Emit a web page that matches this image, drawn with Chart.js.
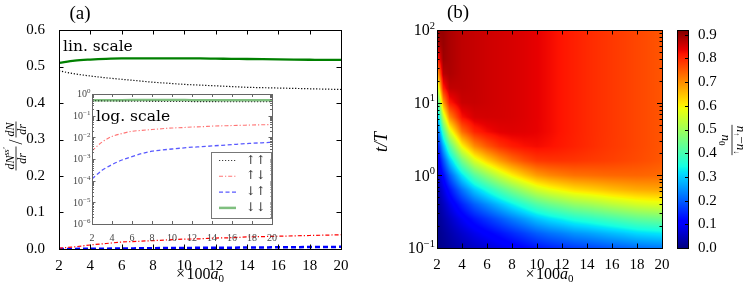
<!DOCTYPE html>
<html><head><meta charset="utf-8">
<script src="https://cdn.jsdelivr.net/npm/chart.js@4.4.1/dist/chart.umd.min.js"></script>
<style>
html,body{margin:0;padding:0;background:#fff;}
#wrap{position:relative;width:748px;height:286px;overflow:hidden;background:#fff;}
canvas{position:absolute;display:block;}
</style></head><body>
<div id="wrap">
<canvas id="cMain" width="370" height="286" style="left:0;top:0;width:370px;height:286px"></canvas>
<canvas id="cInset" width="230" height="170" style="left:60px;top:80px;width:230px;height:170px"></canvas>
<canvas id="cHeat" width="300" height="286" style="left:370px;top:0;width:300px;height:286px"></canvas>
<canvas id="cBar" width="78" height="286" style="left:670px;top:0;width:78px;height:286px"></canvas>
</div>
<script>
// ---------- data ----------
const xValues = [2,3,4,5,6,7,8,9,10,11,12,13,14,15,16,17,18,19,20];
const upUp     = [0.488,0.480,0.474,0.469,0.465,0.461,0.457,0.454,0.451,0.449,0.447,0.445,0.443,0.442,0.441,0.440,0.439,0.438,0.437];
const upDown   = [0.0024,0.006,0.011,0.015,0.019,0.021,0.023,0.025,0.027,0.028,0.030,0.031,0.033,0.034,0.035,0.036,0.037,0.038,0.039];
const downUp   = [0.00012,0.0003,0.00055,0.0009,0.0013,0.0018,0.0023,0.0026,0.0029,0.0032,0.0035,0.0037,0.0040,0.0043,0.0046,0.0050,0.0053,0.0056,0.0059];
const downDown = [0.510,0.516,0.519,0.521,0.522,0.522,0.522,0.522,0.522,0.522,0.5215,0.521,0.5205,0.520,0.5195,0.519,0.5185,0.518,0.518];
const seriesLabels = ['↑↑','↑↓','↓↑','↓↓'];

const xTickValues = [2,4,6,8,10,12,14,16,18,20];
const linTickValues = [0,0.1,0.2,0.3,0.4,0.5,0.6];
const insetLogTicks = [1e-6,1e-5,1e-4,1e-3,1e-2,1e-1,1];
const tLogTicks = [0.1,1,10,100];
const cbarTicks = [0,0.1,0.2,0.3,0.4,0.5,0.6,0.7,0.8,0.9];
const colorMax = 0.92;

// heat map: columns = heatX (x100 a0), rows = heatLogT (log10 t/T), values = (n_up - n_down)/n0
const heatX = [2,2.5,3,4,5,6,7,8,9,10,11,12,13,14,15,16,17,18,19,20];
const heatLogT = [-1,-0.8,-0.6,-0.4,-0.2,0,0.2,0.4,0.6,0.8,1,1.2,1.4,1.6,1.8,2];
const heatZ = [
 [0.005,0.013,0.022,0.039,0.056,0.069,0.083,0.099,0.114,0.131,0.144,0.155,0.167,0.175,0.184,0.194,0.203,0.213,0.220,0.225],
 [0.007,0.020,0.034,0.061,0.086,0.107,0.128,0.150,0.173,0.198,0.217,0.231,0.248,0.258,0.271,0.284,0.296,0.310,0.317,0.324],
 [0.011,0.032,0.053,0.095,0.132,0.162,0.193,0.226,0.257,0.291,0.316,0.335,0.356,0.369,0.384,0.399,0.414,0.429,0.437,0.445],
 [0.018,0.049,0.083,0.145,0.200,0.243,0.286,0.329,0.370,0.412,0.441,0.463,0.486,0.499,0.514,0.531,0.544,0.558,0.566,0.571],
 [0.028,0.077,0.128,0.218,0.295,0.351,0.406,0.458,0.506,0.552,0.580,0.601,0.620,0.630,0.641,0.653,0.662,0.670,0.673,0.675],
 [0.044,0.119,0.194,0.320,0.418,0.485,0.547,0.602,0.646,0.685,0.705,0.717,0.727,0.730,0.734,0.737,0.738,0.739,0.737,0.733],
 [0.069,0.182,0.287,0.450,0.562,0.630,0.685,0.729,0.760,0.782,0.787,0.788,0.786,0.782,0.779,0.775,0.770,0.765,0.759,0.752],
 [0.107,0.271,0.410,0.595,0.700,0.752,0.789,0.811,0.822,0.827,0.821,0.813,0.805,0.797,0.789,0.782,0.776,0.769,0.762,0.755],
 [0.163,0.389,0.556,0.730,0.802,0.827,0.840,0.844,0.842,0.837,0.828,0.817,0.807,0.798,0.790,0.783,0.776,0.769,0.762,0.755],
 [0.245,0.534,0.700,0.822,0.851,0.854,0.853,0.850,0.845,0.838,0.828,0.817,0.807,0.798,0.790,0.783,0.776,0.769,0.762,0.755],
 [0.357,0.683,0.811,0.861,0.863,0.858,0.854,0.850,0.845,0.838,0.828,0.817,0.807,0.798,0.790,0.783,0.776,0.769,0.762,0.755],
 [0.497,0.806,0.868,0.869,0.864,0.858,0.854,0.850,0.845,0.838,0.828,0.817,0.807,0.798,0.790,0.783,0.776,0.769,0.762,0.755],
 [0.651,0.875,0.884,0.870,0.864,0.858,0.854,0.850,0.845,0.838,0.828,0.817,0.807,0.798,0.790,0.783,0.776,0.769,0.762,0.755],
 [0.787,0.897,0.886,0.870,0.864,0.858,0.854,0.850,0.845,0.838,0.828,0.817,0.807,0.798,0.790,0.783,0.776,0.769,0.762,0.755],
 [0.875,0.900,0.886,0.870,0.864,0.858,0.854,0.850,0.845,0.838,0.828,0.817,0.807,0.798,0.790,0.783,0.776,0.769,0.762,0.755],
 [0.908,0.900,0.886,0.870,0.864,0.858,0.854,0.850,0.845,0.838,0.828,0.817,0.807,0.798,0.790,0.783,0.776,0.769,0.762,0.755]
];

// ---------- helpers ----------
const SERIF = '"Liberation Serif", "DejaVu Serif", serif';
const fR = s => s + 'px ' + SERIF;
const fI = s => 'italic ' + s + 'px ' + SERIF;

function segWidth(ctx, segs){ let w=0; for(const s of segs){ ctx.font=s.font; w+=ctx.measureText(s.t).width+(s.gap||0);} return w; }
function drawRich(ctx, segs, x, y, align){
  const w = segWidth(ctx, segs);
  let cx = align==='center' ? x-w/2 : align==='right' ? x-w : x;
  ctx.textAlign='left'; ctx.textBaseline='alphabetic';
  for(const s of segs){ ctx.font=s.font; ctx.fillText(s.t, cx, y+(s.dy||0)); cx += ctx.measureText(s.t).width+(s.gap||0); }
  return w;
}
function drawFrac(ctx, num, den, cx, barY, numBase, denBase){
  const w = Math.max(segWidth(ctx,num), segWidth(ctx,den)) + 2;
  drawRich(ctx, num, cx, barY+numBase, 'center');
  drawRich(ctx, den, cx, barY+denBase, 'center');
  ctx.beginPath(); ctx.lineWidth=0.8; ctx.moveTo(cx-w/2, barY); ctx.lineTo(cx+w/2, barY); ctx.stroke();
  return w;
}
function fracWidth(ctx, num, den){ return Math.max(segWidth(ctx,num), segWidth(ctx,den)) + 2; }

function drawFrame(ctx, ca, color){
  ctx.save(); ctx.strokeStyle=color; ctx.lineWidth=1; ctx.setLineDash([]);
  ctx.strokeRect(Math.round(ca.left)+0.5, Math.round(ca.top)+0.5, Math.round(ca.right)-Math.round(ca.left), Math.round(ca.bottom)-Math.round(ca.top));
  ctx.restore();
}
function xTicksIn(ctx, ca, scale, vals, len, color){
  ctx.save(); ctx.strokeStyle=color; ctx.lineWidth=1; ctx.beginPath();
  for(const v of vals){ const p=Math.round(scale.getPixelForValue(v))+0.5;
    ctx.moveTo(p, ca.bottom); ctx.lineTo(p, ca.bottom-len); ctx.moveTo(p, ca.top); ctx.lineTo(p, ca.top+len); }
  ctx.stroke(); ctx.restore();
}
function yTicksIn(ctx, ca, scale, vals, len, color){
  ctx.save(); ctx.strokeStyle=color; ctx.lineWidth=1; ctx.beginPath();
  for(const v of vals){ const p=Math.round(scale.getPixelForValue(v))+0.5;
    ctx.moveTo(ca.left, p); ctx.lineTo(ca.left+len, p); ctx.moveTo(ca.right, p); ctx.lineTo(ca.right-len, p); }
  ctx.stroke(); ctx.restore();
}
function minorLog(decades){ const out=[]; for(const d of decades){ for(let k=2;k<=9;k++) out.push(d*k); } return out; }
function drawPowLabels(ctx, ca, scale, vals, baseSize, expSize, color, gap, rise){
  ctx.save(); ctx.fillStyle=color;
  for(const v of vals){
    const e = Math.round(Math.log10(v));
    const es = e<0 ? '−'+Math.abs(e) : String(e);
    const p = scale.getPixelForValue(v);
    drawRich(ctx, [{t:'10', font:fR(baseSize)},{t:es, font:fR(expSize), dy:-rise}], ca.left-gap, p+baseSize*0.33, 'right');
  }
  ctx.restore();
}
function jet(f){
  f=Math.max(0,Math.min(1,f));
  const r = f<0.35?0 : f<0.66?(f-0.35)/0.31 : f<0.89?1 : 1-0.5*(f-0.89)/0.11;
  const g = f<0.125?0 : f<0.375?(f-0.125)/0.25 : f<0.64?1 : f<0.91?1-(f-0.64)/0.27 : 0;
  const b = f<0.11?0.5+0.5*f/0.11 : f<0.34?1 : f<0.65?1-(f-0.34)/0.31 : 0;
  return [Math.round(r*255),Math.round(g*255),Math.round(b*255)];
}
function bracket(arr, v){
  const n=arr.length;
  if(v<=arr[0]) return [0,0];
  if(v>=arr[n-1]) return [n-2,1];
  let i=0; while(arr[i+1]<v) i++;
  return [i,(v-arr[i])/(arr[i+1]-arr[i])];
}
const pts = arr => xValues.map((x,i)=>({x, y:arr[i]}));

// ---------- panel (a) main ----------
const mainStyles = [
  {borderColor:'#000000', borderWidth:1.2, borderDash:[1.2,1.8]},
  {borderColor:'#ff0000', borderWidth:1.2, borderDash:[4,2,1.2,2]},
  {borderColor:'#0000ff', borderWidth:2.5, borderDash:[5,3]},
  {borderColor:'#008000', borderWidth:2.3, borderDash:[]}
];
const seriesData = [upUp, upDown, downUp, downDown];

const mainPlugin = {
  id:'mainDecor',
  afterDraw(chart){
    const {ctx, chartArea:ca, scales:{x,y}} = chart;
    drawFrame(ctx, ca, '#000');
    xTicksIn(ctx, ca, x, xTickValues, 4.5, '#000');
    yTicksIn(ctx, ca, y, linTickValues, 4.5, '#000');
    ctx.save(); ctx.fillStyle='#000';
    ctx.font = fR(19); ctx.textAlign='center'; ctx.textBaseline='middle'; ctx.fillText('(a)', 80, 14.5);
    ctx.font = '15.5px "DejaVu Serif", serif'; ctx.textAlign='left'; ctx.textBaseline='alphabetic';
    ctx.fillText('lin. scale', 63, 51);
    drawRich(ctx, [{t:'×', font:fR(16), gap:1.5},{t:'100', font:fR(16)},{t:'a', font:fI(16)},{t:'0', font:fR(11), dy:3}], (ca.left+ca.right)/2, 279, 'center');
    // y title
    ctx.strokeStyle='#000';
    ctx.translate(16,146); ctx.rotate(-Math.PI/2);
    const num1=[{t:'dN',font:fI(12)},{t:'ss′',font:fI(8),dy:-5}], den1=[{t:'dr',font:fI(12)}];
    const num2=[{t:'dN',font:fI(12)}], den2=[{t:'dr',font:fI(12)}];
    const w1=fracWidth(ctx,num1,den1), w2=fracWidth(ctx,num2,den2);
    ctx.font=fR(18); const ws=ctx.measureText('/').width;
    const tot=w1+2+ws+2+w2; let x0=-tot/2;
    drawFrac(ctx,num1,den1,x0+w1/2,0,-2.5,10);
    ctx.font=fR(18); ctx.fillText('/', x0+w1+2, 6);
    drawFrac(ctx,num2,den2,x0+w1+2+ws+2+w2/2,0,-2.5,10);
    ctx.restore();
  }
};

new Chart(document.getElementById('cMain'), {
  type:'line',
  data:{datasets: seriesData.map((d,i)=>Object.assign({label:seriesLabels[i], data:pts(d), pointRadius:0, fill:false, cubicInterpolationMode:'monotone'}, mainStyles[i]))},
  options:{
    responsive:false, animation:false, events:[],
    layout:{padding:{top:30,right:29,left:0,bottom:0}},
    plugins:{legend:{display:false}, tooltip:{enabled:false}},
    scales:{
      x:{type:'linear', min:2, max:20, grid:{display:false}, border:{display:false},
         ticks:{stepSize:2, autoSkip:false, maxRotation:0, padding:0, color:'#000', font:{family:SERIF, size:15}},
         afterFit(s){ s.height=37; }},
      y:{type:'linear', min:0, max:0.6, grid:{display:false}, border:{display:false},
         ticks:{stepSize:0.1, autoSkip:false, padding:6, color:'#000', font:{family:SERIF, size:15}, callback:v=>Number(v).toFixed(1)},
         afterFit(s){ s.width=59; }}
    }
  },
  plugins:[mainPlugin]
});

// ---------- panel (a) inset ----------
const insetStyles = [
  {borderColor:'rgba(0,0,0,0.75)', borderWidth:1.1, borderDash:[1.2,1.8]},
  {borderColor:'rgba(255,0,0,0.55)', borderWidth:1.1, borderDash:[4,2,1.2,2]},
  {borderColor:'rgba(0,0,255,0.65)', borderWidth:1.3, borderDash:[4,2.5]},
  {borderColor:'rgba(0,128,0,0.5)', borderWidth:2.5, borderDash:[]}
];
const insetPlugin = {
  id:'insetDecor',
  beforeDraw(chart){
    const {ctx, chartArea:ca} = chart;
    ctx.save(); ctx.fillStyle='#fff'; ctx.fillRect(ca.left, ca.top, ca.right-ca.left, ca.bottom-ca.top); ctx.restore();
  },
  afterDraw(chart){
    const {ctx, chartArea:ca, scales:{x,y}} = chart;
    const gray='#666';
    drawFrame(ctx, ca, gray);
    xTicksIn(ctx, ca, x, xTickValues, 3, gray);
    yTicksIn(ctx, ca, y, insetLogTicks, 3.5, gray);
    yTicksIn(ctx, ca, y, minorLog(insetLogTicks.slice(0,-1)), 2, gray);
    drawPowLabels(ctx, ca, y, insetLogTicks, 10, 7, '#444', 1.5, 4);
    ctx.save(); ctx.fillStyle='#000'; ctx.font='15.5px "DejaVu Serif", serif'; ctx.textAlign='left'; ctx.textBaseline='alphabetic';
    ctx.fillText('log. scale', ca.left+4, ca.top+27);
    // legend
    const bx0=ca.right-61, bx1=ca.right-1.5, by0=ca.top+58, by1=ca.bottom-6;
    ctx.fillStyle='#fff'; ctx.fillRect(bx0,by0,bx1-bx0,by1-by0);
    ctx.strokeStyle='#777'; ctx.lineWidth=1; ctx.strokeRect(Math.round(bx0)+0.5, Math.round(by0)+0.5, Math.round(bx1-bx0), Math.round(by1-by0));
    chart.data.datasets.forEach((ds,i)=>{
      const yy = by0 + 8.5 + i*15.8;
      ctx.beginPath(); ctx.strokeStyle=ds.borderColor; ctx.lineWidth=ds.borderWidth; ctx.setLineDash(ds.borderDash);
      ctx.moveTo(bx0+8, yy); ctx.lineTo(bx0+25, yy); ctx.stroke(); ctx.setLineDash([]);
      ctx.fillStyle='#333'; ctx.font='12px "DejaVu Serif", serif'; ctx.textAlign='center'; ctx.textBaseline='middle';
      ctx.fillText(ds.label, bx0+44.5, yy);
    });
    ctx.restore();
  }
};
new Chart(document.getElementById('cInset'), {
  type:'line',
  data:{datasets: seriesData.map((d,i)=>Object.assign({label:seriesLabels[i], data:pts(d), pointRadius:0, fill:false, cubicInterpolationMode:'monotone'}, insetStyles[i]))},
  options:{
    responsive:false, animation:false, events:[],
    layout:{padding:{top:14,right:18,left:0,bottom:0}},
    plugins:{legend:{display:false}, tooltip:{enabled:false}},
    scales:{
      x:{type:'linear', min:2, max:20, grid:{display:false}, border:{display:false},
         ticks:{stepSize:2, autoSkip:false, maxRotation:0, padding:0, color:'#444', font:{family:SERIF, size:10}},
         afterFit(s){ s.height=26; }},
      y:{type:'logarithmic', min:1e-6, max:1, grid:{display:false}, border:{display:false},
         ticks:{display:false},
         afterFit(s){ s.width=32; }}
    }
  },
  plugins:[insetPlugin]
});

// ---------- panel (b) heat map ----------
const heatPlugin = {
  id:'heatDecor',
  afterDraw(chart){
    const {ctx, chartArea:ca, scales:{x,y}} = chart;
    const L=Math.round(ca.left), T=Math.round(ca.top), W=Math.round(ca.right)-L, H=Math.round(ca.bottom)-T;
    const img=ctx.createImageData(W,H);
    const colIdx=[];
    for(let px=0;px<W;px++) colIdx.push(bracket(heatX, x.getValueForPixel(L+px+0.5)));
    for(let py=0;py<H;py++){
      const lt=Math.log10(y.getValueForPixel(T+py+0.5));
      const [j,fy]=bracket(heatLogT, lt);
      const r0=heatZ[j], r1=heatZ[j+1];
      for(let px=0;px<W;px++){
        const [i,fx]=colIdx[px];
        const v=(r0[i]*(1-fx)+r0[i+1]*fx)*(1-fy)+(r1[i]*(1-fx)+r1[i+1]*fx)*fy;
        const c=jet(v/colorMax); const k=(py*W+px)*4;
        img.data[k]=c[0]; img.data[k+1]=c[1]; img.data[k+2]=c[2]; img.data[k+3]=255;
      }
    }
    ctx.putImageData(img, L, T);
    drawFrame(ctx, ca, '#000');
    xTicksIn(ctx, ca, x, xTickValues, 4.5, '#000');
    yTicksIn(ctx, ca, y, tLogTicks, 5, '#000');
    yTicksIn(ctx, ca, y, minorLog(tLogTicks.slice(0,-1)), 2.5, '#000');
    drawPowLabels(ctx, ca, y, tLogTicks, 16, 10.5, '#000', 2, 6.5);
    ctx.save(); ctx.fillStyle='#000';
    ctx.font=fR(19); ctx.textAlign='center'; ctx.textBaseline='middle'; ctx.fillText('(b)', 88, 13);
    drawRich(ctx, [{t:'×', font:fR(16), gap:1.5},{t:'100', font:fR(16)},{t:'a', font:fI(16)},{t:'0', font:fR(11), dy:3}], (ca.left+ca.right)/2, 279, 'center');
    ctx.translate(12,142); ctx.rotate(-Math.PI/2);
    ctx.font=fI(18); ctx.textAlign='center'; ctx.textBaseline='middle'; ctx.fillText('t/T', 0, 0);
    ctx.restore();
  }
};
new Chart(document.getElementById('cHeat'), {
  type:'scatter',
  data:{datasets:[]},
  options:{
    responsive:false, animation:false, events:[],
    layout:{padding:{top:30,right:8,left:0,bottom:0}},
    plugins:{legend:{display:false}, tooltip:{enabled:false}},
    scales:{
      x:{type:'linear', min:2, max:20, grid:{display:false}, border:{display:false},
         ticks:{stepSize:2, autoSkip:false, maxRotation:0, padding:0, color:'#000', font:{family:SERIF, size:15}},
         afterFit(s){ s.height=38; }},
      y:{type:'logarithmic', min:0.1, max:100, grid:{display:false}, border:{display:false},
         ticks:{display:false},
         afterFit(s){ s.width=67; }}
    }
  },
  plugins:[heatPlugin]
});

// ---------- colour bar ----------
const barPlugin = {
  id:'barDecor',
  afterDraw(chart){
    const {ctx, chartArea:ca, scales:{y}} = chart;
    const L=Math.round(ca.left), R=Math.round(ca.right);
    for(let py=Math.round(ca.top); py<Math.round(ca.bottom); py++){
      const c=jet(y.getValueForPixel(py+0.5)/colorMax);
      ctx.fillStyle='rgb('+c.join(',')+')'; ctx.fillRect(L, py, R-L, 1);
    }
    drawFrame(ctx, ca, '#000');
    ctx.save(); ctx.strokeStyle='#000'; ctx.lineWidth=1; ctx.beginPath();
    for(const v of cbarTicks){ const p=Math.round(y.getPixelForValue(v))+0.5; ctx.moveTo(ca.right,p); ctx.lineTo(ca.right-3,p); }
    ctx.stroke();
    ctx.fillStyle='#000'; ctx.strokeStyle='#000';
    ctx.translate(62,140); ctx.rotate(Math.PI/2);
    const num=[{t:'n',font:fI(13)},{t:'↑',font:fR(8),dy:3},{t:'−',font:fR(13)},{t:'n',font:fI(13)},{t:'↓',font:fR(8),dy:3}];
    const den=[{t:'n',font:fI(13)},{t:'0',font:fR(9),dy:3}];
    drawFrac(ctx,num,den,0,0,-5,10.5);
    ctx.restore();
  }
};
new Chart(document.getElementById('cBar'), {
  type:'scatter',
  data:{datasets:[]},
  options:{
    responsive:false, animation:false, events:[],
    layout:{padding:{top:30,right:0,left:7,bottom:38}},
    plugins:{legend:{display:false}, tooltip:{enabled:false}},
    scales:{
      x:{type:'linear', display:false, min:0, max:1},
      y:{type:'linear', position:'right', min:0, max:colorMax, grid:{display:false}, border:{display:false},
         ticks:{stepSize:0.1, includeBounds:false, autoSkip:false, padding:2, color:'#000', font:{family:SERIF, size:15}, callback:v=>Number(v).toFixed(1)},
         afterFit(s){ s.width=60; }}
    }
  },
  plugins:[barPlugin]
});
</script></body></html>
